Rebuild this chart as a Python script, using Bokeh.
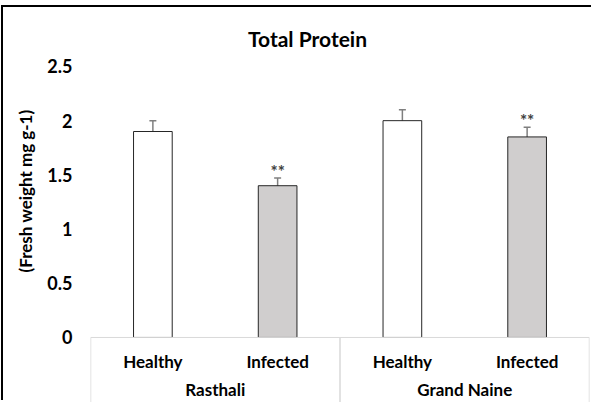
from bokeh.plotting import figure
from bokeh.models import (FactorRange, Range1d, ColumnDataSource, Whisker, TeeHead,
                          FixedTicker, Span, Title, Label)
from bokeh.core.properties import value
from bokeh.embed import file_html
from bokeh.resources import INLINE

# ---- data ----
groups = ["Rasthali", "Grand Naine"]
conditions = ["Healthy", "Infected"]
protein = [1.9, 1.4, 2.0, 1.85]
errors = [0.10, 0.07, 0.10, 0.09]
signif = ["", "**", "", "**"]
bar_colors = ["#ffffff", "#d0cece", "#ffffff", "#d0cece"]
y_ticks = [0, 0.5, 1, 1.5, 2, 2.5]
y_tick_labels = ["0", "0.5", "1", "1.5", "2", "2.5"]
title_text = "Total Protein"
y_label = "(Fresh weight mg g-1)"

factors = [(g, c) for g in groups for c in conditions]
upper = [v + e for v, e in zip(protein, errors)]
lower = [v - e for v, e in zip(protein, errors)]

FONT = "Lato"
# frame covers the whole canvas: headroom above 2.5 holds the title,
# room under zero holds the category table
Y_TOP = 3.044
Y_BOTTOM = -0.6

src = ColumnDataSource(dict(x=factors, top=protein, upper=upper, lower=lower,
                            fill=bar_colors, sig=signif,
                            sub=[c for g in groups for c in conditions]))

p = figure(width=590, height=395, output_backend="svg", toolbar_location=None,
           x_range=FactorRange(*factors, factor_padding=0, group_padding=0,
                               range_padding=0),
           y_range=Range1d(Y_BOTTOM, Y_TOP),
           min_border_left=85, min_border_right=4, min_border_top=0,
           min_border_bottom=0)
# chart-area frame line on the left and top edges (does not change layout)
p.styles = {"position": "relative", "top": "7px", "left": "3px",
            "box-shadow": "-2px -2px 0 0 #000000"}

p.outline_line_color = None
p.grid.visible = False
p.xaxis.visible = False

# chart title (screen pixels relative to the plot frame)
p.add_layout(Label(x=217, y=364, x_units="screen", y_units="screen",
                   text=title_text, text_font=FONT, text_font_size="21px",
                   text_font_style="bold", text_color="#000000",
                   text_align="center", text_baseline="alphabetic"))

# y axis
yax = p.yaxis[0]
yax.ticker = FixedTicker(ticks=y_ticks)
yax.major_label_overrides = dict(zip(y_ticks, y_tick_labels))
yax.axis_line_color = None
yax.major_tick_line_color = None
yax.minor_tick_line_color = None
yax.major_tick_out = 0
yax.major_label_standoff = 18
yax.major_label_text_font = FONT
yax.major_label_text_font_size = "18px"
yax.major_label_text_font_style = "bold"
yax.major_label_text_color = "#000000"

ytitle = Title(text=y_label, align="right", offset=102, text_font=FONT,
               text_font_size="17px", text_font_style="bold",
               text_color="#000000", standoff=18)
p.add_layout(ytitle, "left")

# category table lines
p.add_layout(Span(location=0, dimension="width", line_color="#d9d9d9", line_width=1))
bounds = [0]
for g in groups:
    bounds.append(bounds[-1] + len(conditions))
p.segment(x0=bounds, y0=0, x1=bounds, y1=Y_BOTTOM, line_color="#d9d9d9", line_width=1.5)

# bars
p.vbar(x="x", top="top", width=0.31, source=src, fill_color="fill",
       line_color="#262626", line_width=1)

# error bars
err = Whisker(base="x", upper="upper", lower="lower", source=src,
              line_color="#7f7f7f", line_width=1.5,
              upper_head=TeeHead(size=7, line_color="#7f7f7f", line_width=1.5),
              lower_head=TeeHead(size=7, line_color="#7f7f7f", line_width=1.5))
p.add_layout(err)

# significance marks
p.text(x="x", y="upper", text="sig", source=src, y_offset=-7,
       text_align="center", text_baseline="middle", text_font=value(FONT),
       text_font_size="17px", text_font_style="bold", text_color="#404040")

# category labels
p.text(x="x", y=0, text="sub", source=src, y_offset=24,
       text_align="center", text_baseline="middle", text_font=value(FONT),
       text_font_size="17px", text_font_style="bold", text_color="#000000")
p.text(x=groups, y=[0] * len(groups), text=groups, y_offset=52,
       text_align="center", text_baseline="middle", text_font=value(FONT),
       text_font_size="17px", text_font_style="bold", text_color="#000000")

open("out.html", "w").write(file_html(p, INLINE))
